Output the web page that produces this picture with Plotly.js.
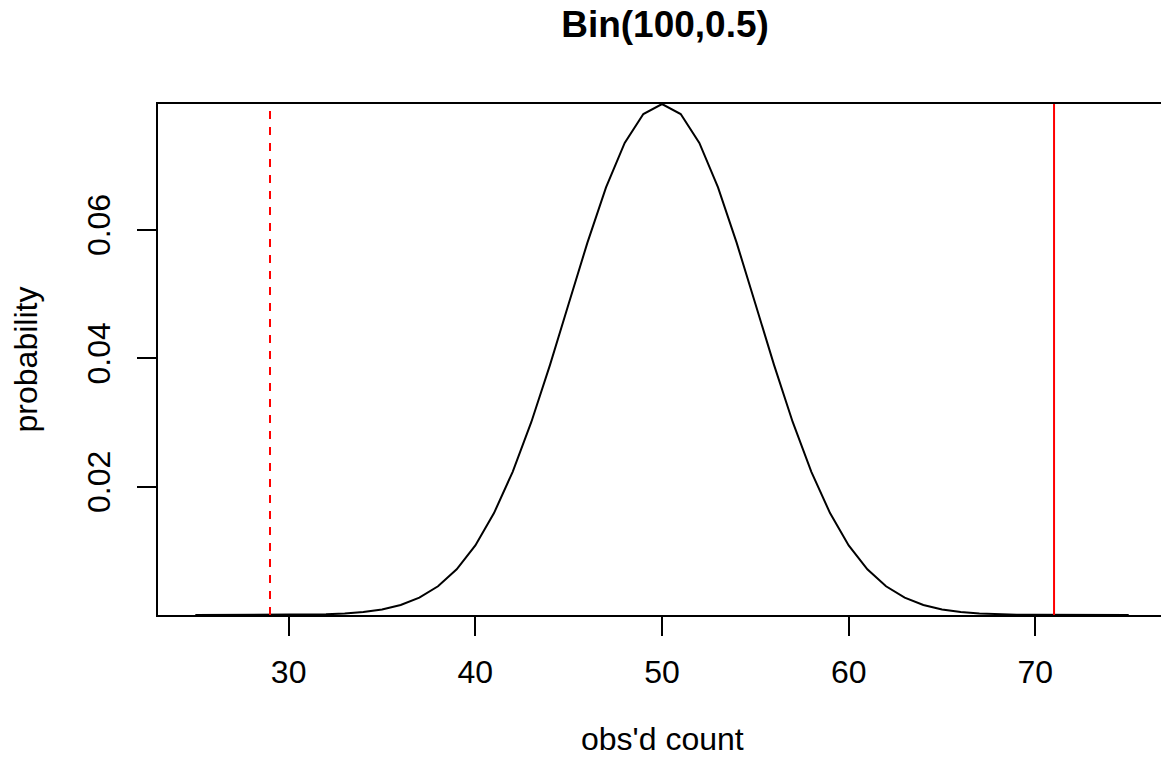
<!DOCTYPE html>
<html>
<head>
<meta charset="utf-8">
<script src="https://cdn.plot.ly/plotly-3.0.1.min.js"></script>
<style>
html,body{margin:0;padding:0;background:#fff;}
#chart{width:1161px;height:763px;}
</style>
</head>
<body>
<div id="chart"></div>
<script>
// observed counts k = 25..75
const counts = [25,26,27,28,29,30,31,32,33,34,35,36,37,38,39,40,41,42,43,44,45,46,47,48,49,50,
                51,52,53,54,55,56,57,58,59,60,61,62,63,64,65,66,67,68,69,70,71,72,73,74,75];
// probabilities (symmetric around 50)
const probs = [0.00000019,0.00000055,0.0000015,0.0000040,0.0000098,0.0000233,0.0000524,0.0001129,
               0.0002325,0.0004581,0.0008639,0.0015597,0.0026979,0.0044729,0.0071108,0.0108439,
               0.0158745,0.0222923,0.0300686,0.0389525,0.0484743,0.0579584,0.0665905,0.0735270,
               0.0780287,0.0795892,
               0.0780287,0.0735270,0.0665905,0.0579584,0.0484743,0.0389525,0.0300686,0.0222923,
               0.0158745,0.0108439,0.0071108,0.0044729,0.0026979,0.0015597,0.0008639,0.0004581,
               0.0002325,0.0001129,0.0000524,0.0000233,0.0000098,0.0000040,0.0000015,0.00000055,0.00000019];
const lowerCut = 29;   // dashed red line
const observed = 71;   // solid red line
const xTicks = [30,40,50,60,70];
const yTicks = [0.02,0.04,0.06];
const yTickText = ["0.02","0.04","0.06"];
const xTitle = "obs'd count";
const yTitle = "probability";

const FONT = "Liberation Sans, Arial, Helvetica, sans-serif";
const FS = 32;

const traces = [{
  x: counts, y: probs, type: "scatter", mode: "lines",
  line: {color: "#000000", width: 2}, hoverinfo: "x+y", showlegend: false
}];

const layout = {
  width: 1161, height: 763,
  margin: {l: 158, r: 0, t: 104, b: 148, pad: 0},
  paper_bgcolor: "#ffffff", plot_bgcolor: "#ffffff",
  font: {family: FONT, color: "#000000", size: FS},
  showlegend: false,
  title: {
    text: "<b>Bin(100,0.5)</b>",
    font: {family: FONT, size: 37, color: "#000000"},
    xref: "container", x: 0.5728, xanchor: "center",
    yref: "container", y: 1 - 24/763, yanchor: "middle"
  },
  xaxis: {
    range: [23, 76.73],
    tickmode: "array", tickvals: xTicks, ticktext: xTicks.map(String),
    ticks: "outside", ticklen: 19, tickwidth: 2, tickcolor: "#000",
    ticklabelstandoff: 9,
    showline: true, linecolor: "#000", linewidth: 2, mirror: true,
    showgrid: false, zeroline: false,
    tickfont: {family: FONT, size: FS, color: "#000"}
  },
  yaxis: {
    range: [0.00000019, 0.0795892],
    tickmode: "array", tickvals: yTicks, ticktext: yTickText,
    ticks: "outside", ticklen: 19, tickwidth: 2, tickcolor: "#000",
    tickangle: -90,
    ticklabelstandoff: 14,
    showline: true, linecolor: "#000", linewidth: 2, mirror: false,
    showgrid: false, zeroline: false,
    tickfont: {family: FONT, size: FS, color: "#000"},
    title: {text: yTitle, font: {family: FONT, size: FS, color: "#000"}, standoff: 34}
  },
  annotations: [
    {text: xTitle, xref: "paper", yref: "paper", x: 0.503, y: 0,
     xanchor: "center", yanchor: "top", yshift: -105, borderpad: 0, showarrow: false,
     font: {family: FONT, size: FS, color: "#000"}}
  ],
  shapes: [
    {type: "line", xref: "x", yref: "paper", x0: lowerCut, x1: lowerCut, y0: 0, y1: 1,
     line: {color: "#ff0000", width: 2, dash: "8px,8px"}},
    {type: "line", xref: "x", yref: "paper", x0: observed, x1: observed, y0: 0, y1: 1,
     line: {color: "#ff0000", width: 2}}
  ]
};

Plotly.newPlot("chart", traces, layout, {displayModeBar: false, staticPlot: true});
</script>
</body>
</html>
